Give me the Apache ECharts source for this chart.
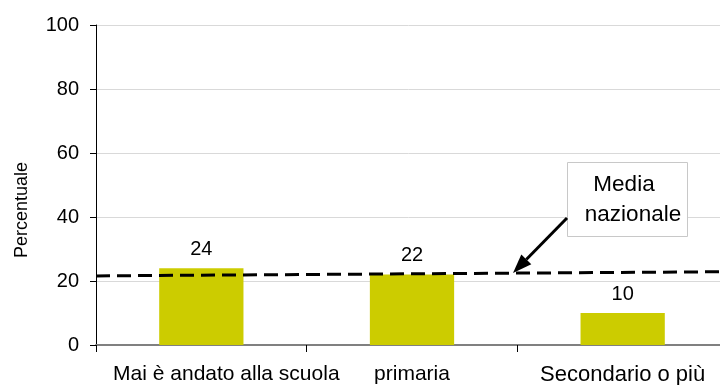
<!DOCTYPE html>
<html><head><meta charset="utf-8">
<script src="https://cdn.jsdelivr.net/npm/echarts@6/dist/echarts.min.js"></script>
<style>html,body{margin:0;padding:0;background:#fff}#c{width:720px;height:385px}</style>
</head><body><div id="c"></div>
<script>
const categories = ['Mai è andato alla scuola', 'primaria', 'Secondario o più'];
const values = [24, 22, 10];
const mediaNazionale = [[0, 21.6], [1, 22.9]];
const yTicks = [0, 20, 40, 60, 80, 100];
const FONT = 'Liberation Sans, Arial, sans-serif';

const chart = echarts.init(document.getElementById('c'), null, {renderer: 'canvas'});

// arrow geometry (annotation)
const tail = [567, 218], tip = [513, 273];
const dx = tip[0]-tail[0], dy = tip[1]-tail[1], L = Math.hypot(dx, dy);
const ux = dx/L, uy = dy/L, hl = 19, hw = 7;
const bx = tip[0]-ux*hl, by = tip[1]-uy*hl;
const px = -uy, py = ux;

chart.setOption({
  animation: false,
  backgroundColor: '#fff',
  textStyle: {fontFamily: FONT},
  grid: {left: 96, right: -8, top: 25, bottom: 40, containLabel: false, outerBoundsMode: 'none'},
  xAxis: [{
    type: 'category', data: categories,
    axisLine: {lineStyle: {color: '#808080', width: 2}},
    axisTick: {show: true, length: 7, lineStyle: {color: '#000'}},
    axisLabel: {
      margin: 19, fontSize: 21, color: '#000', fontFamily: FONT, interval: 0,
      formatter: (v, i) => i === 0 ? '{a|' + v + '}' : (i === 2 ? '{b|' + v + '}' : v),
      rich: {
        a: {padding: [0, 0, 0, 50], fontSize: 21, color: '#000', fontFamily: FONT},
        b: {fontSize: 22, color: '#000', fontFamily: FONT}
      }
    },
    splitLine: {show: false}
  }, {
    type: 'value', min: 0, max: 1, show: false
  }],
  yAxis: {
    type: 'value', min: 0, max: 100, interval: 20,
    axisLine: {show: true, lineStyle: {color: '#000', width: 1}},
    axisTick: {show: true, length: 6, lineStyle: {color: '#000'}},
    axisLabel: {margin: 17, fontSize: 20, color: '#000', fontFamily: FONT,
      formatter: v => yTicks.includes(v) ? String(v) : ''},
    splitLine: {show: true, lineStyle: {color: '#d9d9d9', width: 1}}
  },
  series: [{
    type: 'bar', data: values, barWidth: '40%', xAxisIndex: 0,
    itemStyle: {color: '#cccc00'},
    label: {show: true, position: 'top', distance: 9, fontSize: 20, color: '#000', fontFamily: FONT},
    z: 2
  }, {
    type: 'line', data: mediaNazionale, xAxisIndex: 1, yAxisIndex: 0,
    symbol: 'none', lineStyle: {color: '#000', width: 3, type: [14, 7]}, z: 3
  }],
  graphic: [
    {type: 'text', x: 22, y: 210, rotation: Math.PI/2,
     style: {text: 'Percentuale', fontSize: 18, fontFamily: FONT, fill: '#000', align: 'center', verticalAlign: 'middle'}},
    {type: 'rect', shape: {x: 567.5, y: 162.5, width: 120, height: 74},
     style: {fill: '#fff', stroke: '#c8c8c8', lineWidth: 1}, z: 10},
    {type: 'text', x: 624, y: 185, z: 11,
     style: {text: 'Media', fontSize: 22.5, fontFamily: FONT, fill: '#000', align: 'center', verticalAlign: 'middle'}},
    {type: 'text', x: 633, y: 215, z: 11,
     style: {text: 'nazionale', fontSize: 22.5, fontFamily: FONT, fill: '#000', align: 'center', verticalAlign: 'middle'}},
    {type: 'line', shape: {x1: tail[0], y1: tail[1], x2: bx, y2: by},
     style: {stroke: '#000', lineWidth: 3}, z: 12},
    {type: 'polygon', shape: {points: [[tip[0], tip[1]], [bx+px*hw, by+py*hw], [bx-px*hw, by-py*hw]]},
     style: {fill: '#000'}, z: 12}
  ]
});
</script></body></html>
